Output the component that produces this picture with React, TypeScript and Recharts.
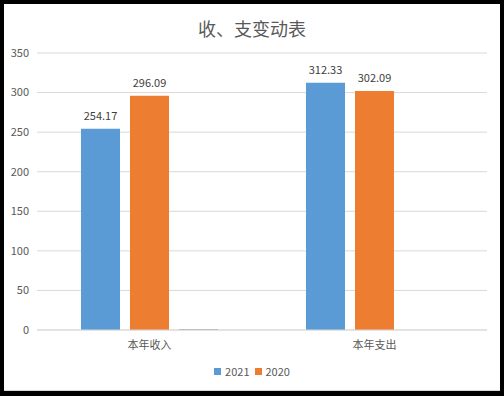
import React from "react";
import { BarChart, Bar, XAxis, YAxis, CartesianGrid, Legend, LabelList } from "recharts";

const categories = ["本年收入", "本年支出"];
const values2021 = [254.17, 312.33];
const values2020 = [296.09, 302.09];
const valuesOther = [1.2, 0];
const yTicks = [0, 50, 100, 150, 200, 250, 300, 350];
const legendOrder = ["2021", "2020"];

const data = categories.map((c, i) => ({
  name: c,
  y2021: values2021[i],
  y2020: values2020[i],
  other: valuesOther[i],
}));

const FONT = '"Noto Sans CJK SC", "Noto Sans", sans-serif';

function LegendContent(props: any) {
  const items = (props.payload || [])
    .filter((p: any) => p.type !== "none" && p.value)
    .sort((a: any, b: any) => legendOrder.indexOf(String(a.value)) - legendOrder.indexOf(String(b.value)));
  return (
    <div style={{ display: "flex", justifyContent: "center", alignItems: "center", fontFamily: FONT, fontSize: 11, color: "#595959", height: 18, paddingLeft: 17 }}>
      {items.map((it: any, i: number) => (
        <div key={i} style={{ display: "flex", alignItems: "center", marginLeft: i ? 5 : 0 }}>
          <span style={{ display: "inline-block", width: 7, height: 7, background: it.color, marginRight: 4 }} />
          <span>{it.value}</span>
        </div>
      ))}
    </div>
  );
}

export default function App() {
  return (
    <div style={{ position: "absolute", left: 0, top: 0, width: 504, height: 396, background: "#000" }}>
      <div style={{ position: "absolute", left: 4, top: 4, width: 496, height: 387, background: "#fff", borderBottom: "1px solid #d9d9d9", boxSizing: "border-box" }} />
      <div style={{ position: "absolute", left: 0, top: 15, width: 504, textAlign: "center", fontFamily: FONT, fontSize: 18, color: "#595959" }}>
        收、支变动表
      </div>
      <div style={{ position: "absolute", left: 0, top: 0 }}>
        <BarChart
          width={504}
          height={396}
          data={data}
          margin={{ top: 53, right: 17, left: 0, bottom: 16 }}
          barSize={39}
          barGap={10}
        >
          <CartesianGrid vertical={false} stroke="#d9d9d9" />
          <XAxis
            dataKey="name"
            height={32}
            tickLine={false}
            axisLine={{ stroke: "#d9d9d9" }}
            tick={{ fill: "#595959", fontSize: 11, fontFamily: FONT }}
            tickMargin={5}
          />
          <YAxis
            width={37}
            domain={[0, 350]}
            ticks={yTicks}
            tickLine={false}
            axisLine={false}
            tick={{ fill: "#595959", fontSize: 11, fontFamily: FONT }}
          />
          <Legend content={LegendContent} height={18} />
          <Bar dataKey="y2021" name="2021" fill="#5b9bd5" isAnimationActive={false}>
            <LabelList dataKey="y2021" position="top" offset={9} fill="#404040" fontSize={11} fontFamily={FONT} />
          </Bar>
          <Bar dataKey="y2020" name="2020" fill="#ed7d31" isAnimationActive={false}>
            <LabelList dataKey="y2020" position="top" offset={9} fill="#404040" fontSize={11} fontFamily={FONT} />
          </Bar>
          <Bar dataKey="other" name="" fill="#a5a5a5" legendType="none" isAnimationActive={false} />
        </BarChart>
      </div>
    </div>
  );
}
